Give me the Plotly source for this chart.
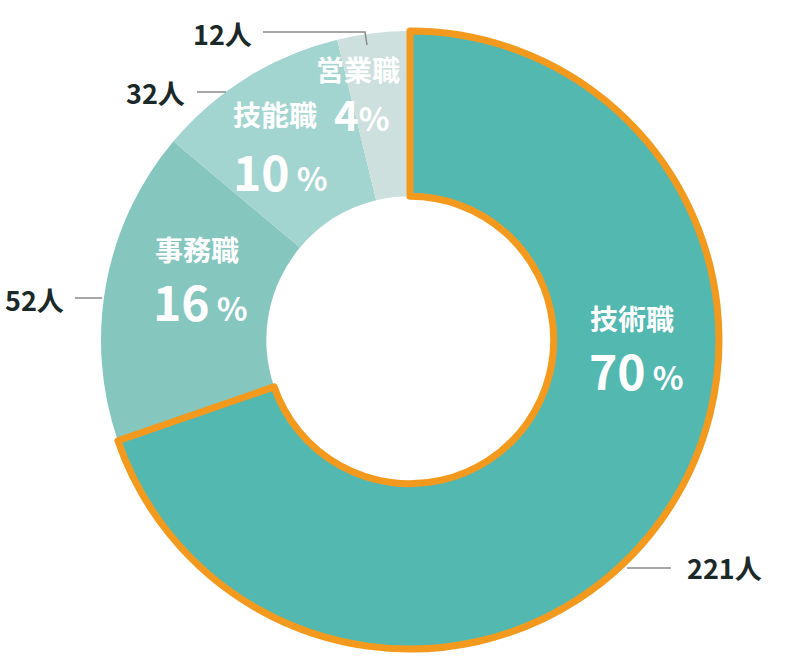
import plotly.graph_objects as go

# data
labels = ["技術職", "事務職", "技能職", "営業職"]
counts = [221, 52, 32, 12]
colors = ["#52b8b0", "#85c7bf", "#a3d5d0", "#cde0de"]

total = sum(counts)
pcts = [round(c / total * 100) for c in counts]

W, H = 810, 660
FONT = "Noto Sans CJK JP"
DARK = "#1b2a28"
LINE = "#8a8a8a"

# donut geometry in pixels (center + outer radius)
cx, cy, r = 410, 340, 309
dom_x = [(cx - r) / W, (cx + r) / W]
dom_y = [1 - (cy + r) / H, 1 - (cy - r) / H]

fig = go.Figure()

# main donut
fig.add_trace(go.Pie(
    labels=labels, values=counts, sort=False, direction="clockwise",
    rotation=0, hole=0.465, textinfo="none", hoverinfo="label+value+percent",
    marker=dict(colors=colors, line=dict(width=0)),
    domain=dict(x=dom_x, y=dom_y), showlegend=False,
))

# orange outline on the biggest slice, drawn on top
fig.add_trace(go.Pie(
    labels=labels, values=counts, sort=False, direction="clockwise",
    rotation=0, hole=0.465, textinfo="none", hoverinfo="skip",
    marker=dict(colors=["rgba(0,0,0,0)"] * 4,
                line=dict(color=["#f39a1e", "rgba(0,0,0,0)", "rgba(0,0,0,0)", "rgba(0,0,0,0)"],
                          width=[7, 0, 0, 0])),
    domain=dict(x=dom_x, y=dom_y), showlegend=False,
))

# label positions (px): name, percent, count label, leader line
name_pos = [(632, 318), (197, 249), (275, 114), (358, 69)]
pct_pos = [(636, 369), (200, 300), (280, 170), (362, 113)]
pct_size = [48, 48, 48, 42]
pct_gap = [" ", " ", " ", ""]
count_pos = [(724, 567), (34, 299), (155, 93), (222, 33)]
leaders = [
    "M 627 568 L 671 568",
    "M 75 298 L 102 298",
    "M 197 92 L 226 92",
    "M 263 32 L 365 32 L 367 45",
]

annotations = []
for i in range(len(labels)):
    nx, ny = name_pos[i]
    annotations.append(dict(
        x=nx / W, y=1 - ny / H, xref="paper", yref="paper", showarrow=False,
        xanchor="center", yanchor="middle",
        text="<b>%s</b>" % labels[i], font=dict(family=FONT, size=28, color="white"),
    ))
    px, py = pct_pos[i]
    annotations.append(dict(
        x=px / W, y=1 - py / H, xref="paper", yref="paper", showarrow=False,
        xanchor="center", yanchor="middle",
        text="<b>%d</b><span style='font-size:32px'>%s<b>%%</b></span>" % (pcts[i], pct_gap[i]),
        font=dict(family=FONT, size=pct_size[i], color="white"),
    ))
    tx, ty = count_pos[i]
    annotations.append(dict(
        x=tx / W, y=1 - ty / H, xref="paper", yref="paper", showarrow=False,
        xanchor="center", yanchor="middle",
        text="<b>%d人</b>" % counts[i], font=dict(family=FONT, size=27, color=DARK),
    ))

shapes = []
for p in leaders:
    shapes.append(dict(type="path", path=p, xref="x", yref="y",
                       line=dict(color=LINE, width=1.5)))

fig.update_layout(
    width=W, height=H, margin=dict(l=0, r=0, t=0, b=0),
    paper_bgcolor="white", plot_bgcolor="rgba(0,0,0,0)",
    xaxis=dict(range=[0, W], visible=False, fixedrange=True),
    yaxis=dict(range=[H, 0], visible=False, fixedrange=True),
    annotations=annotations, shapes=shapes,
)

# page has a default 8px body margin; drop it so pixel positions line up
fig.write_html("out.html", config={"displayModeBar": False},
               post_script="document.body.style.margin='0px';")
